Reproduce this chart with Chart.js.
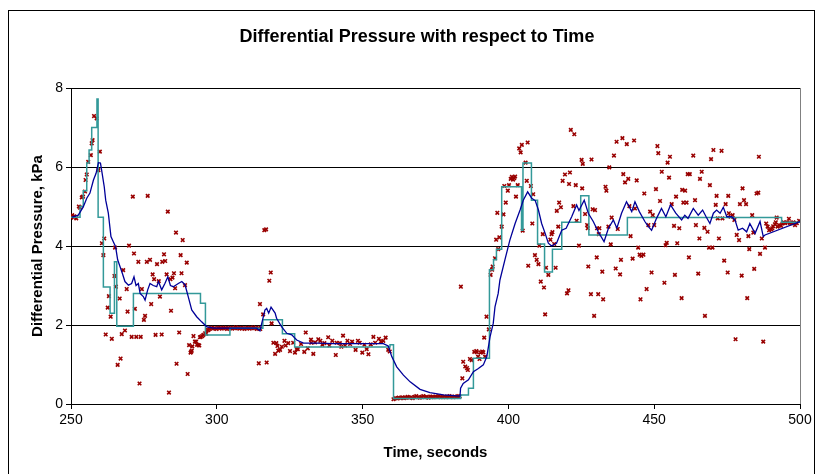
<!DOCTYPE html>
<html>
<head>
<meta charset="utf-8">
<script src="https://cdn.jsdelivr.net/npm/chart.js@4.4.3/dist/chart.umd.min.js"></script>
<style>
  html, body { margin: 0; padding: 0; background: #fff; }
  #wrap { position: relative; width: 818px; height: 474px; }
</style>
</head>
<body>
<div id="wrap"><canvas id="dpChart"></canvas></div>
<script>
const TITLE = "Differential Pressure with respect to Time";
const X_TITLE = "Time, seconds";
const Y_TITLE = "Differential Pressure, kPa";
const X_TICKS = [250, 300, 350, 400, 450, 500];
const Y_TICKS = [0, 2, 4, 6, 8];

// measured samples [time s, dp kPa]
const measured = [
  [250.1,4.72],[250.4,4.78],[250.7,4.74],[251.2,4.75],[251.8,4.7],[252.7,5.0],[253.1,4.97],[253.7,5.23],[254.1,5.25],[254.8,5.38],
  [255.0,5.67],[255.4,5.81],[255.9,6.13],[256.8,6.3],[257.1,6.6],[257.4,6.68],[257.9,7.29],[258.8,7.23],[259.4,5.92],[259.9,6.39],
  [260.6,4.07],[261.1,3.77],[261.4,4.19],[261.9,1.76],[262.6,2.44],[263.0,2.73],[263.6,2.21],[264.0,1.65],[264.9,3.24],[265.1,3.96],
  [265.4,2.97],[266.0,0.99],[266.7,2.67],[267.0,1.15],[267.4,1.77],[267.9,3.39],[268.5,1.86],[269.1,2.91],[269.4,2.34],[269.9,4.01],
  [270.8,1.7],[271.2,5.25],[271.6,3.81],[271.9,2.41],[272.4,1.7],[273.1,3.6],[273.5,0.52],[273.9,1.7],[274.3,2.91],[275.0,2.13],
  [275.4,2.23],[276.0,3.6],[276.3,5.27],[277.1,3.65],[277.5,2.53],[278.0,3.28],[278.5,3.16],[279.0,1.75],[279.5,3.54],[280.1,3.11],
  [280.5,2.72],[281.1,1.76],[281.3,3.6],[281.9,3.79],[282.3,3.62],[282.8,3.28],[283.2,4.87],[283.6,0.29],[284.1,3.16],[284.3,2.36],
  [284.8,3.2],[285.3,3.31],[285.7,2.93],[286.0,4.34],[286.2,1.02],[287.1,1.81],[287.6,3.77],[287.9,3.31],[288.3,4.15],[289.1,3.01],
  [289.7,3.58],[290.0,0.76],[290.5,1.49],[291.0,1.3],[291.2,1.32],[291.4,1.35],[291.6,1.46],[292.0,1.72],[292.5,1.58],[292.9,1.58],
  [293.2,1.5],[293.7,1.49],[294.0,1.48],[294.2,1.69],[294.5,1.7],[295.0,1.72],[295.4,1.75],[296.0,1.79],[296.4,1.78],[297.1,1.87],
  [296.8,1.88],[297.5,1.9],[298.1,1.93],[298.7,1.91],[299.3,1.92],[299.9,1.9],[300.5,1.93],[301.1,1.92],[301.7,1.91],[302.3,1.93],
  [302.9,1.92],[303.5,1.9],[304.1,1.92],[304.7,1.93],[305.3,1.91],[305.9,1.92],[306.5,1.94],[307.1,1.92],[307.7,1.91],[308.3,1.93],
  [308.9,1.92],[309.5,1.9],[310.1,1.92],[310.7,1.93],[311.3,1.91],[311.9,1.92],[312.5,1.94],[313.1,1.92],[313.7,1.9],[314.3,1.93],
  [314.4,1.03],[314.8,2.53],[314.9,1.9],[315.9,2.27],[316.3,4.4],[316.9,4.42],[317.1,1.05],[318.0,3.12],[318.5,3.33],[318.8,2.04],
  [319.4,1.55],[320.0,1.27],[320.4,1.54],[320.8,1.47],[321.1,1.35],[321.7,1.37],[322.3,1.45],
  [323.2,1.6],[323.6,1.48],[324.5,1.54],[325.1,1.34],[326.2,1.55],[326.8,1.3],[327.4,1.39],[327.8,1.39],[328.9,1.52],[330.0,1.32],
  [330.5,1.81],[331.2,1.41],[332.3,1.63],[332.4,1.55],[333.1,1.27],[333.7,1.56],[334.8,1.64],[335.5,1.6],[336.2,1.5],[336.9,1.54],
  [338.2,1.69],[338.6,1.48],[339.6,1.6],[340.8,1.24],[341.1,1.55],[342.2,1.54],[342.7,1.45],[343.3,1.73],[344.0,1.48],[344.8,1.6],
  [345.7,1.52],[346.4,1.58],[347.6,1.37],[348.4,1.6],[349.0,1.55],[349.9,1.3],[350.6,1.5],[351.4,1.39],[352.0,1.26],[352.8,1.51],
  [353.7,1.7],[354.3,1.55],[355.6,1.65],[356.3,1.58],[357.1,1.6],[357.9,1.68],[358.8,1.37],[359.3,1.33],
  [360.6,0.12],[361.2,0.15],[361.8,0.14],[362.4,0.16],[363.0,0.15],[363.6,0.17],[364.2,0.15],[364.8,0.16],[365.4,0.18],[366.0,0.16],
  [366.6,0.17],[367.2,0.15],[367.8,0.18],[368.4,0.2],[369.0,0.17],[369.6,0.16],[370.2,0.18],[370.8,0.2],[371.4,0.17],[372.0,0.18],
  [372.6,0.16],[373.2,0.19],[373.8,0.18],[374.4,0.17],[375.0,0.19],[375.6,0.18],[376.2,0.2],[376.8,0.17],[377.4,0.18],[378.0,0.19],
  [378.6,0.17],[379.2,0.18],[379.8,0.2],[380.4,0.18],[381.0,0.17],[381.6,0.19],[382.2,0.18],[382.8,0.2],[383.3,0.19],
  [383.7,2.97],[384.2,0.65],[384.5,1.07],[385.2,0.95],[385.8,0.91],[386.1,0.86],[386.8,1.14],[387.4,1.11],[388.3,1.32],[389.0,1.34],
  [389.2,1.31],[389.6,1.2],[390.1,1.14],[390.5,1.3],[391.0,1.33],[391.4,1.31],[391.7,1.68],[392.0,1.2],[392.5,2.21],[393.3,1.89],
  [393.9,3.27],[394.4,3.4],[394.6,3.48],[395.4,3.69],[395.8,4.16],[396.2,4.84],[396.5,3.92],[396.9,4.22],[397.7,4.49],[398.3,4.8],
  [398.6,5.52],[399.1,5.1],[399.8,5.4],[400.2,5.54],
  [400.8,5.7],[401.2,5.75],[401.6,5.68],[402.0,5.72],[402.3,5.76],[402.6,5.25],[403.2,5.54],[403.7,6.47],[404.2,6.37],[404.6,6.56],
  [404.9,4.39],[405.9,6.11],[406.3,5.65],[406.6,6.62],[406.8,3.5],[407.7,5.52],[408.2,4.57],[408.5,5.31],[409.1,3.77],[409.7,3.65],
  [410.3,3.54],[410.6,4.01],[411.1,3.1],[411.8,4.3],[412.2,2.95],[412.6,2.27],[412.9,3.45],[413.7,3.27],[414.4,4.16],[414.8,4.3],
  [415.1,4.35],[415.7,4.05],[416.2,3.45],[416.6,4.89],[417.1,4.49],[417.4,5.1],[418.0,4.98],[418.6,5.65],[419.4,5.81],[420.1,2.8],
  [420.6,2.88],[420.8,5.57],[421.1,5.86],[421.4,6.94],[422.3,5.01],[422.6,6.83],[423.1,5.54],[423.4,4.64],[424.2,4.01],[425.1,6.18],
  [425.5,6.08],[425.3,5.46],[426.3,4.81],[427.0,4.53],[427.2,4.45],[427.4,3.48],[428.3,2.78],[428.5,6.19],[428.9,4.93],[429.4,2.23],
  [429.7,4.91],[430.3,3.71],[430.4,4.45],[430.8,2.78],[431.2,4.45],[431.0,4.3],
  [432.2,3.35],[432.5,2.65],[433.3,5.5],[433.6,5.4],[434.3,4.49],[434.6,5.99],[435.1,4.04],[435.4,4.72],[436.2,6.29],[436.8,3.43],
  [437.1,6.64],[437.5,4.43],[438.3,3.28],[438.6,3.65],[439.1,6.73],[439.4,5.82],[440.0,5.61],[440.6,6.58],[441.1,5.7],[441.5,5.01],
  [441.9,4.25],[442.6,3.68],[443.1,6.67],[443.4,4.95],[444.0,5.66],[444.5,3.96],[445.0,3.78],[445.3,2.65],[445.6,3.75],[446.3,3.78],
  [446.6,5.33],[447.4,2.91],[448.0,4.53],[448.6,4.87],[449.1,3.33],[449.5,4.78],[450.0,4.53],[450.6,5.44],[451.1,6.53],[451.4,6.35],
  [452.0,5.14],[452.6,5.88],[453.5,3.07],[453.9,4.02],[454.3,4.08],[454.6,6.11],[455.1,5.73],[455.4,6.26],[456.0,5.06],[456.8,4.51],
  [457.1,3.27],[457.5,5.25],[457.9,4.07],[458.6,4.45],[459.4,2.68],[459.6,5.42],[460.0,5.1],[460.6,5.4],[461.1,5.1],[461.5,5.82],
  [461.9,3.71],[462.2,5.82],[463.4,6.29],[464.0,5.16],[464.3,4.53],[465.1,3.3],[465.5,4.19],[465.7,5.7],
  [466.3,5.88],[467.2,4.46],[467.4,2.23],[468.3,4.36],[468.8,3.96],[469.1,5.54],[469.5,6.2],[470.0,3.96],[470.3,6.43],[471.1,5.04],
  [471.4,5.27],[471.8,4.7],[472.2,4.19],[473.1,6.41],[473.4,4.7],[474.0,3.63],[474.5,5.06],[475.2,3.33],[475.4,5.27],[475.6,4.83],
  [476.2,4.74],[476.9,4.78],[477.5,4.66],[477.9,1.64],[478.3,4.28],[479.1,4.15],[479.4,5.06],[480.0,3.25],[480.3,5.46],[480.8,5.16],
  [481.5,5.06],[481.9,2.68],[482.3,4.25],[482.6,3.92],[483.6,4.78],[484.0,4.34],[484.3,3.42],[485.1,5.33],[485.7,5.35],[485.9,6.26],
  [486.3,3.8],[486.9,4.19],[487.4,1.58],[488.0,3.96],[488.4,4.57],
  [488.9,4.49],[489.4,4.4],[490.1,4.42],[490.5,4.45],[490.8,4.5],[491.4,4.55],[491.7,4.6],[492.0,4.72],[492.3,4.49],[492.8,4.53],
  [493.5,4.51],[494.0,4.57],[494.4,4.6],[494.9,4.58],[495.6,4.6],[496.2,4.69],[496.6,4.58],[497.2,4.57],[497.7,4.6],[498.3,4.53],
  [498.9,4.58],[499.7,4.64]
];

// stepped signal: value changes to dp at time t
const stepped = [
  [250,4.73],[253.1,5.0],[254.2,5.4],[255.4,6.1],[256.2,6.43],[257.1,7.0],[258.9,7.72],[259.3,4.73],[261.1,2.96],[263.4,2.3],
  [264.9,3.6],[265.7,1.97],[271.4,2.8],[294.4,2.55],[296.1,1.75],[304.5,1.92],[315.8,2.13],[322.5,1.78],[326.7,1.44],[359.4,1.5],
  [360.6,0.14],[383.6,0.23],[386.3,0.4],[388.0,1.16],[393.5,3.4],[394.9,3.65],[395.9,3.92],[397.7,5.5],[404.5,4.4],[405.0,6.1],
  [407.9,5.16],[410.0,4.05],[412.4,3.34],[415.1,3.92],[418.3,4.6],[424.8,5.27],[427.6,4.28],[440.8,4.72],[493.7,4.6],[500,4.6]
];

// smoothed signal
const smoothed = [
  [250.4,4.73],[252.5,4.78],[254.2,4.99],[255.4,5.21],[256.5,5.34],[257.7,5.67],[258.6,5.84],[259.4,6.11],[260.1,6.1],[260.5,5.92],
  [261.4,5.5],[261.9,5.16],[262.8,4.83],[263.7,4.24],[264.5,4.11],[265.3,3.98],[266.0,3.65],[266.8,3.48],[267.6,3.31],[268.5,3.1],
  [269.7,3.01],[270.8,3.05],[271.6,3.22],[272.3,3.0],[273.1,3.05],[273.7,2.8],[274.8,2.72],[275.4,2.63],[276.3,2.89],[277.1,3.05],
  [278.2,3.0],[279.4,2.97],[280.0,3.1],[281.1,2.89],[282.2,3.05],[283.2,3.22],[284.1,3.0],[285.1,2.97],[286.8,3.05],[288.0,3.1],
  [289.1,3.02],[290.2,2.72],[291.4,2.38],[293.1,2.21],[294.8,2.08],[296.5,1.96],[298.8,1.92],[305.0,1.92],[313.7,1.92],[314.8,1.85],
  [316.5,2.38],[317.1,2.42],[317.8,2.3],[318.6,2.45],[320.0,2.3],[320.5,2.17],[322.2,1.96],[324.0,1.79],[325.7,1.75],[327.4,1.62],
  [329.7,1.54],[334.3,1.54],[340.0,1.53],[345.7,1.53],[351.4,1.53],[357.1,1.53],[358.8,1.47],[360.0,1.2],[361.7,0.94],[364.0,0.73],
  [366.3,0.56],[369.7,0.37],[373.1,0.29],[377.7,0.23],[383.4,0.2],[383.6,0.4],[384.5,0.52],[386.3,0.61],[388.0,0.82],[389.7,0.9],
  [391.4,0.99],[392.6,1.2],[393.7,1.7],[394.8,2.04],[395.4,2.46],[396.5,2.8],[397.1,3.14],[398.8,3.65],[400.5,4.15],[402.3,4.57],
  [404.0,4.91],[405.1,5.16],[406.6,5.37],[408.0,5.21],[409.2,5.15],[410.3,4.91],[411.4,4.57],[412.6,4.32],[413.7,4.07],[414.8,4.0],
  [416.5,4.07],[418.3,4.4],[419.8,4.45],[421.7,4.74],[423.4,5.04],[424.2,4.9],[426.0,5.16],[427.4,4.83],[429.1,4.62],[430.8,4.36],
  [432.8,4.11],[434.3,4.45],[436.0,4.66],[437.2,4.45],[438.8,4.83],[440.5,5.12],[442.3,4.87],[443.4,5.12],[444.9,4.87],[446.8,4.62],
  [448.0,4.49],[449.1,4.4],[450.8,4.7],[452.5,4.95],[454.0,4.74],[455.6,5.04],[457.4,4.83],[459.4,4.66],[460.5,4.78],[461.6,4.7],
  [463.4,4.95],[465.1,4.78],[466.6,4.91],[467.8,4.74],[469.1,4.57],[470.3,4.83],[471.4,4.91],[472.6,4.83],[473.7,4.98],[474.9,4.74],
  [476.6,4.74],[477.7,4.66],[478.8,4.4],[480.3,4.45],[481.7,4.36],[482.8,4.57],[484.6,4.32],[486.3,4.62],[487.4,4.24],[488.0,4.28],
  [500,4.62]
];

const toXY = (arr) => arr.map(([x, y]) => ({ x, y }));

Chart.defaults.font.family = '"Liberation Sans", Arial, sans-serif';
Chart.defaults.color = "#000";

// cadre extérieur + titre + bord droit gris de la zone de tracé
const frame = {
  id: "frame",
  beforeDraw(chart) {
    const { ctx, chartArea: a } = chart;
    ctx.save();
    ctx.strokeStyle = "#000";
    ctx.lineWidth = 1;
    ctx.strokeRect(8.5, 10.5, 806, 500);
    ctx.strokeStyle = "#808080";
    ctx.beginPath();
    ctx.moveTo(Math.round(a.right) + 0.5, a.top);
    ctx.lineTo(Math.round(a.right) + 0.5, a.bottom);
    ctx.stroke();
    ctx.fillStyle = "#000";
    ctx.font = 'bold 18px "Liberation Sans", Arial, sans-serif';
    ctx.textAlign = "center";
    ctx.textBaseline = "middle";
    ctx.fillText(TITLE, 417, 37);
    ctx.restore();
  },
};

new Chart(document.getElementById("dpChart"), {
  type: "scatter",
  data: {
    datasets: [
      {
        label: "Smoothed",
        data: toXY(smoothed),
        showLine: true,
        borderColor: "#000099",
        borderWidth: 1.3,
        pointRadius: 0,
        order: 0,
      },
      {
        label: "Stepped",
        data: toXY(stepped),
        showLine: true,
        stepped: true,
        borderColor: "#339999",
        borderWidth: 1.5,
        pointRadius: 0,
        order: 1,
      },
      {
        label: "Measured",
        data: toXY(measured),
        pointStyle: "crossRot",
        pointRadius: 2.5,
        borderWidth: 1.6,
        borderColor: "#990000",
        backgroundColor: "#990000",
        order: 2,
      },
    ],
  },
  options: {
    responsive: true,
    maintainAspectRatio: false,
    animation: false,
    devicePixelRatio: 1,
    layout: { padding: { top: 88, right: 18, bottom: 0, left: 0 } },
    plugins: { legend: { display: false }, tooltip: { enabled: false } },
    scales: {
      x: {
        type: "linear",
        min: X_TICKS[0],
        max: X_TICKS[X_TICKS.length - 1],
        afterBuildTicks: (s) => { s.ticks = X_TICKS.map((v) => ({ value: v })); },
        afterFit: (s) => { s.height = 70; },
        ticks: { font: { size: 14 }, padding: 3, maxRotation: 0 },
        grid: { drawOnChartArea: false, drawTicks: true, tickLength: 5, color: "#000" },
        border: { color: "#000", width: 1 },
        title: { display: true, text: X_TITLE, font: { size: 15, weight: "bold" }, padding: { top: 0, bottom: 12 } },
      },
      y: {
        min: Y_TICKS[0],
        max: Y_TICKS[Y_TICKS.length - 1],
        afterBuildTicks: (s) => { s.ticks = Y_TICKS.map((v) => ({ value: v })); },
        afterFit: (s) => { s.width = 71; },
        ticks: { font: { size: 14 }, padding: 3 },
        grid: { color: "#000", lineWidth: 1, drawTicks: true, tickLength: 5 },
        border: { color: "#000", width: 1 },
        title: { display: true, text: Y_TITLE, font: { size: 15, weight: "bold" }, padding: { top: 29, bottom: 0 } },
      },
    },
  },
  plugins: [frame],
});
</script>
</body>
</html>
